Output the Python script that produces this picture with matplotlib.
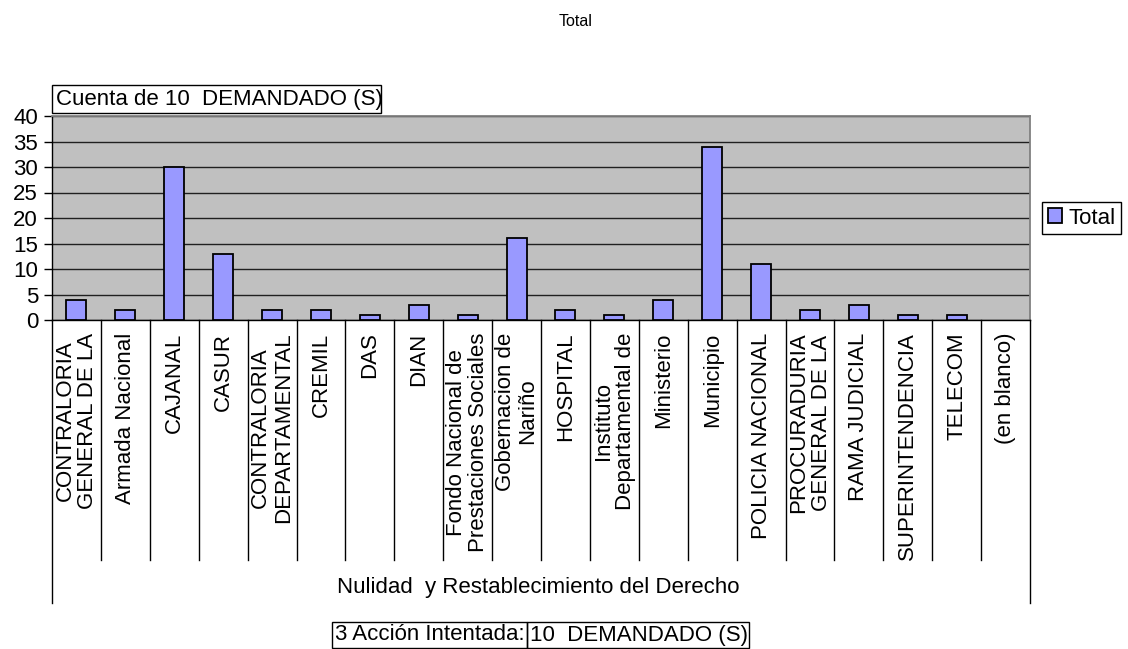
import matplotlib
matplotlib.use("Agg")
import matplotlib.pyplot as plt
from matplotlib.patches import Rectangle
from matplotlib.lines import Line2D
from matplotlib.transforms import blended_transform_factory

plt.rcParams["font.family"] = ["Liberation Sans", "DejaVu Sans"]

# ── data ──────────────────────────────────────────────────────────────────────
categories = [
    "CONTRALORIA\nGENERAL DE LA", "Armada Nacional", "CAJANAL", "CASUR",
    "CONTRALORIA\nDEPARTAMENTAL", "CREMIL", "DAS", "DIAN",
    "Fondo Nacional de\nPrestaciones Sociales", "Gobernacion de\nNariño",
    "HOSPITAL", "Instituto\nDepartamental de", "Ministerio", "Municipio",
    "POLICIA NACIONAL", "PROCURADURIA\nGENERAL DE LA", "RAMA JUDICIAL",
    "SUPERINTENDENCIA", "TELECOM", "(en blanco)",
]
totals = [4, 2, 30, 13, 2, 2, 1, 3, 1, 16, 2, 1, 4, 34, 11, 2, 3, 1, 1, 0]
yticks = list(range(0, 41, 5))
group_label = "Nulidad  y Restablecimiento del Derecho"
field_row = ["3 Acción Intentada:", "10  DEMANDADO (S)"]
data_field = "Cuenta de 10  DEMANDADO (S)"
series_name = "Total"

# ── layout (pixels) ───────────────────────────────────────────────────────────
W, H = 1128, 649
FS = 16
L, R, T, B = 52, 1030, 116, 320


def fx(px):
    return px / W


def fy(py):
    return 1 - py / H


fig = plt.figure(figsize=(W / 100, H / 100), dpi=100)
ax = fig.add_axes([fx(L), fy(B), fx(R - L), (B - T) / H])
ax.set_facecolor("#C0C0C0")

n = len(categories)
bars = ax.bar(range(n), totals, width=0.41, color="#9999FF",
              edgecolor="black", linewidth=1.3, zorder=3, label=series_name)
for rect, v in zip(bars, totals):
    if v == 0:
        rect.set_linewidth(0)

ax.set_xlim(-0.5, n - 0.5)
ax.set_ylim(0, 40)
ax.set_yticks(yticks)
ax.tick_params(axis="y", labelsize=FS, length=6, width=1, pad=4)
ax.yaxis.grid(True, color="#202020", lw=1, zorder=1)
ax.set_axisbelow(True)

ax.set_xticks(range(n))
ax.set_xticklabels(categories, rotation=90, fontsize=FS,
                   multialignment="center", linespacing=1.1)
ax.tick_params(axis="x", length=0, pad=9)

for side in ("top", "right"):
    ax.spines[side].set_color("#808080")
    ax.spines[side].set_linewidth(1.3)
for side in ("left", "bottom"):
    ax.spines[side].set_color("black")
    ax.spines[side].set_linewidth(1)

# category separators and group frame below the axis
tr = blended_transform_factory(ax.transData, fig.transFigure)
for i in range(n + 1):
    x = i - 0.5
    y_end = 603 if i in (0, n) else 560
    fig.add_artist(Line2D([x, x], [fy(B), fy(y_end)], transform=tr,
                          color="black", lw=1))

fig.text(fx(538), fy(588), group_label, fontsize=FS,
         ha="center", va="center")

# field buttons
fig.add_artist(Rectangle((fx(332), fy(648)), fx(527 - 332), (648 - 622) / H,
                         transform=fig.transFigure, fill=False, ec="black", lw=1))
fig.add_artist(Rectangle((fx(527), fy(648)), fx(749 - 527), (648 - 622) / H,
                         transform=fig.transFigure, fill=False, ec="black", lw=1))
fig.text(fx(335), fy(635), field_row[0], fontsize=FS, ha="left", va="center")
fig.text(fx(530), fy(635), field_row[1], fontsize=FS, ha="left", va="center")

fig.add_artist(Rectangle((fx(52), fy(113)), fx(381 - 52), (113 - 85) / H,
                         transform=fig.transFigure, fill=False, ec="black", lw=1))
fig.text(fx(56), fy(99), data_field, fontsize=FS, ha="left", va="center")

# title
fig.text(fx(576), fy(22), "Total", fontsize=11.5, ha="center", va="center")

# legend
leg = fig.legend(handles=[bars], loc="center left",
                 bbox_to_anchor=(fx(1042), fy(218)), fontsize=FS,
                 frameon=True, fancybox=False, edgecolor="black",
                 framealpha=1, handlelength=0.65, handleheight=0.65,
                 handletextpad=0.3, borderpad=0.25, borderaxespad=0)
leg.get_frame().set_linewidth(1)

fig.savefig("out.png", dpi=100)
